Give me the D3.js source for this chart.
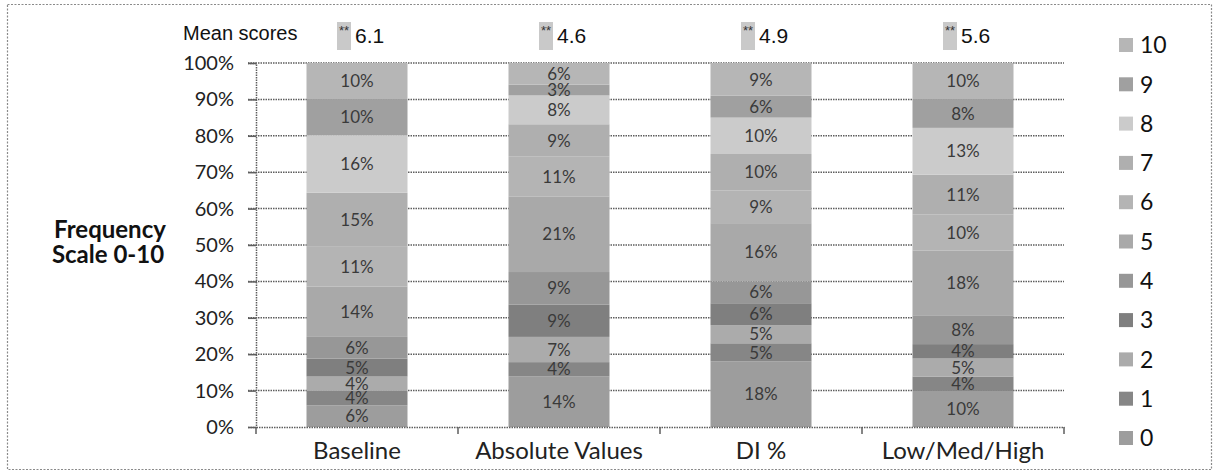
<!DOCTYPE html>
<html>
<head>
<meta charset="utf-8">
<script src="https://cdn.jsdelivr.net/npm/d3@7/dist/d3.min.js"></script>
<style>
  html, body { margin: 0; padding: 0; background: #fff; }
  svg { display: block; }
</style>
</head>
<body>
<svg id="chart" width="1219" height="475"></svg>
<script>
// Frequency distribution of scores 0-10 per scale type
const categories = ["Baseline", "Absolute Values", "DI %", "Low/Med/High"];
const scoreLevels = ["0", "1", "2", "3", "4", "5", "6", "7", "8", "9", "10"];
const meanScores = ["6.1", "4.6", "4.9", "5.6"];

// percentage per score level, from 0 up to 10
const baselineValues = [6, 4, 4, 5, 6, 14, 11, 15, 16, 10, 10];
const absoluteValues = [14, 4, 7, 9, 9, 21, 11, 9, 8, 3, 6];
const diPercentValues = [18, 5, 5, 6, 6, 16, 9, 10, 10, 6, 9];
const lowMedHighValues = [10, 4, 5, 4, 8, 18, 10, 11, 13, 8, 10];

const yTickValues = [0, 0.1, 0.2, 0.3, 0.4, 0.5, 0.6, 0.7, 0.8, 0.9, 1];

const levelColors = ["#9d9d9d", "#868686", "#ababab", "#7f7f7f", "#979797",
                     "#a9a9a9", "#b4b4b4", "#afafaf", "#cbcbcb", "#a0a0a0", "#b6b6b6"];

const seriesByCategory = [baselineValues, absoluteValues, diPercentValues, lowMedHighValues];
const rows = categories.map((c, i) => {
  const row = { category: c };
  scoreLevels.forEach((k, j) => { row[k] = seriesByCategory[i][j]; });
  return row;
});

const svg = d3.select("#chart");
const W = 1219, H = 475;
const plot = { left: 256, right: 1064, top: 63, bottom: 427 };

const labelFont = "Lato, 'Open Sans', sans-serif";

// outer frame
svg.append("rect")
  .attr("x", 7.5).attr("y", 4.5).attr("width", W - 15).attr("height", H - 10)
  .attr("fill", "none").attr("stroke", "#8a8a8a").attr("stroke-width", 1.2)
  .attr("stroke-dasharray", "2,1.5");

const x = d3.scaleBand().domain(categories)
  .range([plot.left, plot.right]).paddingInner(0.5).paddingOuter(0.25);
const y = d3.scaleLinear().domain([0, 1]).range([plot.bottom, plot.top]);
const color = d3.scaleOrdinal().domain(scoreLevels).range(levelColors);

// gridlines
svg.append("g")
  .selectAll("line").data(yTickValues.slice(1)).join("line")
  .attr("x1", plot.left - 8).attr("x2", plot.right)
  .attr("y1", d => y(d)).attr("y2", d => y(d))
  .attr("stroke", "#5e5e5e").attr("stroke-width", 1.5)
  .attr("stroke-dasharray", "1.5,1");

// stacked bars (100% stacked)
const stacked = d3.stack().keys(scoreLevels).offset(d3.stackOffsetExpand)(rows);

const layers = svg.append("g").selectAll("g").data(stacked).join("g")
  .attr("fill", d => color(d.key));

layers.selectAll("rect").data(d => d).join("rect")
  .attr("x", d => x(d.data.category))
  .attr("width", x.bandwidth())
  .attr("y", d => y(d[1]))
  .attr("height", d => y(d[0]) - y(d[1]));

// segment labels
const labels = svg.append("g")
  .attr("font-family", labelFont).attr("font-size", 17)
  .attr("fill", "#3a3a3a").attr("text-anchor", "middle");
stacked.forEach(layer => {
  layer.forEach(d => {
    labels.append("text")
      .attr("x", x(d.data.category) + x.bandwidth() / 2)
      .attr("y", y((d[0] + d[1]) / 2))
      .attr("dy", "0.36em")
      .text(d.data[layer.key] + "%");
  });
});

// y axis
const yAxis = d3.axisLeft(y).tickValues(yTickValues)
  .tickFormat(d3.format(".0%")).tickSize(8).tickPadding(14);
const yg = svg.append("g").attr("transform", `translate(${plot.left},0)`).call(yAxis);
yg.select(".domain").attr("stroke", "#5e5e5e").attr("stroke-width", 1.5).attr("stroke-dasharray", "1.5,1");
yg.selectAll(".tick line").attr("stroke", "#5e5e5e").attr("stroke-width", 1.5);
yg.selectAll(".tick text").attr("font-family", labelFont).attr("font-size", 20).attr("fill", "#222");

// x axis
const xAxis = d3.axisBottom(x).tickSize(0).tickPadding(15);
const xg = svg.append("g").attr("transform", `translate(0,${plot.bottom})`).call(xAxis);
xg.select(".domain").attr("stroke", "#5e5e5e").attr("stroke-width", 1.5).attr("stroke-dasharray", "1.5,1");
xg.selectAll(".tick text").attr("font-family", labelFont).attr("font-size", 24).attr("fill", "#222");
// category boundary ticks
const boundaries = [plot.left].concat(categories.map(c => x(c) + x.bandwidth() / 2 + x.step() / 2));
svg.append("g").selectAll("line").data(boundaries).join("line")
  .attr("x1", d => d).attr("x2", d => d)
  .attr("y1", plot.bottom).attr("y2", plot.bottom + 7)
  .attr("stroke", "#5e5e5e").attr("stroke-width", 1.5);

// y axis title
const yTitle = svg.append("text")
  .attr("font-family", labelFont).attr("font-weight", "bold").attr("font-size", 24)
  .attr("fill", "#111").attr("text-anchor", "middle");
yTitle.append("tspan").attr("x", 110).attr("y", 238).text("Frequency");
yTitle.append("tspan").attr("x", 108).attr("y", 263).text("Scale 0-10");

// mean scores row
const meanFont = "'Liberation Sans Narrow', 'Liberation Sans', Arial, sans-serif";
svg.append("text")
  .attr("x", 183).attr("y", 40)
  .attr("font-family", meanFont).attr("font-size", 20).attr("fill", "#111")
  .text("Mean scores");

const means = svg.append("g").selectAll("g").data(categories).join("g")
  .attr("transform", d => `translate(${x(d) + x.bandwidth() / 2},0)`);
means.append("rect")
  .attr("x", -20).attr("y", 22).attr("width", 14).attr("height", 28)
  .attr("fill", "#c9c9c9");
means.append("text")
  .attr("x", -13).attr("y", 35).attr("text-anchor", "middle")
  .attr("font-family", meanFont).attr("font-size", 13).attr("fill", "#333")
  .text("**");
means.append("text")
  .attr("x", -2).attr("y", 43)
  .attr("font-family", meanFont).attr("font-size", 21).attr("fill", "#111")
  .text((d, i) => meanScores[i]);

// legend, highest score on top
const legendLevels = scoreLevels.slice().reverse();
const legend = svg.append("g").selectAll("g").data(legendLevels).join("g")
  .attr("transform", (d, i) => `translate(1119,${45 + i * 39.3})`);
legend.append("rect")
  .attr("x", 0).attr("y", -7).attr("width", 14).attr("height", 14)
  .attr("fill", d => color(d));
legend.append("text")
  .attr("x", 21).attr("y", 0).attr("dy", "0.36em")
  .attr("font-family", labelFont).attr("font-size", 23).attr("fill", "#111")
  .text(d => d);
</script>
</body>
</html>
